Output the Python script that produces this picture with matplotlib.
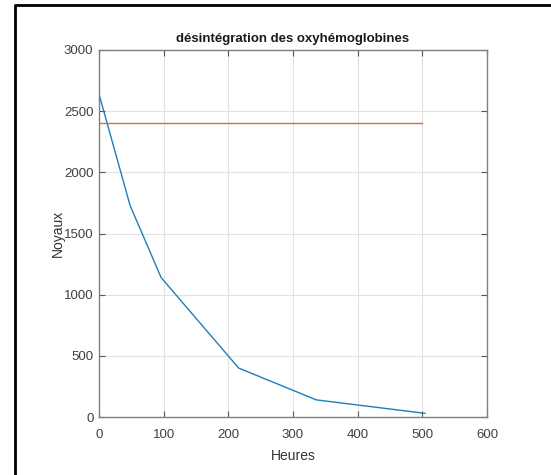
import matplotlib
matplotlib.use("Agg")
import matplotlib.pyplot as plt
from matplotlib.lines import Line2D

hours = [0, 48, 96, 216, 336, 504]
noyaux = [2640, 1730, 1140, 400, 140, 30]
seuil_x = [0, 500]
seuil_y = [2400, 2400]
xticks = [0, 100, 200, 300, 400, 500, 600]
yticks = [0, 500, 1000, 1500, 2000, 2500, 3000]

plt.rcParams['font.family'] = ['Liberation Sans', 'DejaVu Sans']

W, H = 551, 475
fig = plt.figure(figsize=(W/100, H/100), dpi=100)
fig.patch.set_facecolor('white')
ax = fig.add_axes([99/W, 1-417/H, (487-99)/W, (417-50)/H])

ax.plot(hours, noyaux, color='#1f7fb8', lw=1.0)
ax.plot(seuil_x, seuil_y, color='#e06a30', lw=1.0)

ax.set_xlim(0, 600)
ax.set_ylim(0, 3000)
ax.set_xticks(xticks)
ax.set_yticks(yticks)
ax.grid(True, color='#e2e2e2', lw=0.8)
ax.set_axisbelow(True)
ax.tick_params(direction='in', length=4, width=0.8, color='#555555',
               labelcolor='#404040', labelsize=9.5, top=True, right=True)
ax.tick_params(axis='x', pad=9)
ax.tick_params(axis='y', pad=4)
for s in ax.spines.values():
    s.set_color('#808080')
    s.set_linewidth(1.0)

ax.set_title('désintégration des oxyhémoglobines', fontsize=9.5,
             fontweight='bold', color='#1a1a1a', pad=6)
ax.set_xlabel('Heures', fontsize=10, color='#333333', labelpad=5.5)
ax.set_ylabel('Noyaux', fontsize=10, color='#333333', labelpad=-1)

# black frame lines (left and top)
fig.add_artist(Line2D([14.5/W, 14.5/W], [0, 1-5/H], color='black', lw=2.0,
                      solid_capstyle='butt', transform=fig.transFigure))
fig.add_artist(Line2D([13.5/W, 1], [1-5/H, 1-5/H], color='black', lw=2.0,
                      solid_capstyle='butt', transform=fig.transFigure))

fig.savefig('out.png', dpi=100)
